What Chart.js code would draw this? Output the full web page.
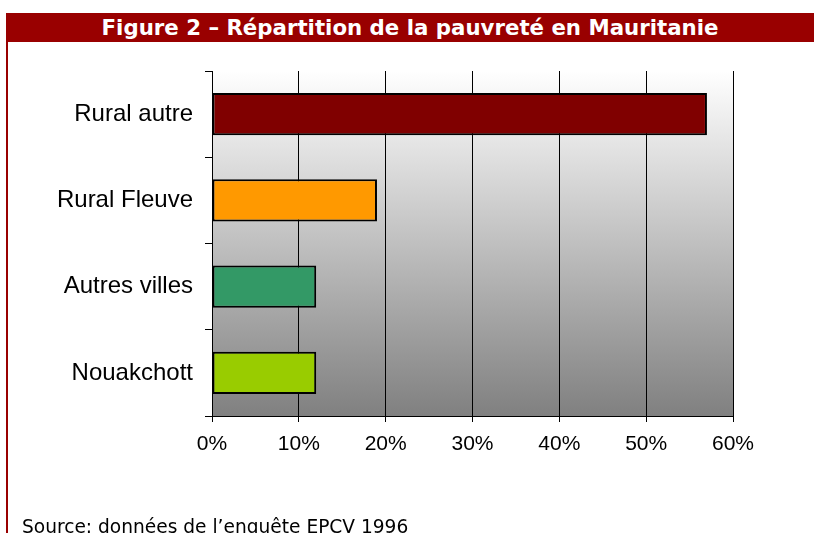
<!DOCTYPE html>
<html>
<head>
<meta charset="utf-8">
<script src="https://cdn.jsdelivr.net/npm/chart.js@4"></script>
<style>
  html, body { margin: 0; padding: 0; background: #fff; overflow: hidden; }
  #wrap { position: relative; width: 814px; height: 533px; }
  #title {
    position: absolute; left: 6px; top: 13px; width: 808px; height: 29px;
    background: #990000; color: #fff; text-align: center;
    font: bold 21.3px "DejaVu Sans", Verdana, sans-serif; line-height: 29px;
    white-space: nowrap;
  }
  #edge { position: absolute; left: 6px; top: 13px; width: 2px; height: 520px; background: #990000; }
  #source {
    position: absolute; left: 22px; top: 516px;
    font: 18.6px "DejaVu Sans", Verdana, sans-serif; line-height: 22px; color: #000; white-space: nowrap;
  }
  canvas { position: absolute; left: 0; top: 0; }
</style>
</head>
<body>
<div id="wrap">
  <div id="edge"></div>
  <div id="title">Figure 2 – Répartition de la pauvreté en Mauritanie</div>
  <canvas id="chart" width="814" height="533"></canvas>
  <div id="source">Source: données de l’enquête EPCV 1996</div>
</div>
<script>
const categories = ["Rural autre", "Rural Fleuve", "Autres villes", "Nouakchott"];
const values = [57, 19, 12, 12];
const barColors = ["#800000", "#ff9900", "#339966", "#99cc00"];
const xTicks = [0, 10, 20, 30, 40, 50, 60];

const FONT = "'Liberation Sans', Arial, sans-serif";

// gradient behind the plot area
const plotBg = {
  id: 'plotBg',
  beforeDraw(chart) {
    const { ctx, chartArea: a } = chart;
    const g = ctx.createLinearGradient(0, a.top, 0, a.bottom);
    g.addColorStop(0, '#ffffff');
    g.addColorStop(1, '#808080');
    ctx.save();
    ctx.fillStyle = g;
    ctx.fillRect(a.left, a.top, a.right - a.left, a.bottom - a.top);
    ctx.restore();
  }
};

function draw() {
  const ctx = document.getElementById('chart').getContext('2d');
  new Chart(ctx, {
    type: 'bar',
    data: {
      labels: categories,
      datasets: [{
        data: values,
        backgroundColor: barColors,
        borderColor: '#000',
        borderWidth: 2,
        borderSkipped: false,
        barPercentage: 0.49,
        categoryPercentage: 1
      }]
    },
    options: {
      indexAxis: 'y',
      responsive: false,
      animation: false,
      layout: { padding: { top: 71, right: 81, left: 0, bottom: 0 } },
      plugins: { legend: { display: false }, tooltip: { enabled: false } },
      scales: {
        x: {
          min: xTicks[0],
          max: xTicks[xTicks.length - 1],
          afterBuildTicks: s => { s.ticks = xTicks.map(v => ({ value: v })); },
          afterFit: s => { s.height = 533 - 416; },
          grid: { color: '#000', lineWidth: 1, tickLength: 6, drawTicks: true },
          border: { color: '#000', width: 1 },
          ticks: {
            color: '#000', padding: 10,
            font: { family: FONT, size: 21 },
            callback: v => v + '%'
          }
        },
        y: {
          afterFit: s => { s.width = 212; },
          grid: { offset: true, drawOnChartArea: false, tickLength: 7, color: '#000' },
          border: { color: '#000', width: 1 },
          ticks: {
            color: '#000', padding: 12,
            font: { family: FONT, size: 24 }
          }
        }
      }
    },
    plugins: [plotBg]
  });
}

document.fonts.load("24px 'Liberation Sans'").then(draw, draw);
</script>
</body>
</html>
